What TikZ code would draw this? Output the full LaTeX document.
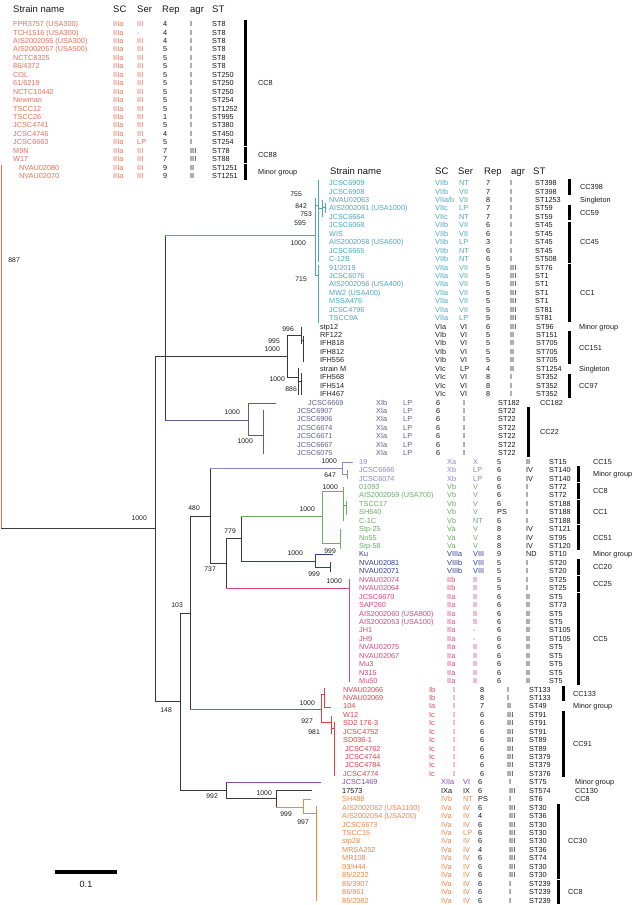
\documentclass[tikz,border=0pt]{standalone}
\usepackage{fontspec}
\setmainfont{Liberation Sans}
\definecolor{cIII}{HTML}{E8705A}
\definecolor{cVII}{HTML}{4BA7BF}
\definecolor{cVI}{HTML}{222222}
\definecolor{cXI}{HTML}{5F5D8F}
\definecolor{cX}{HTML}{8A89C4}
\definecolor{cV}{HTML}{6AAE68}
\definecolor{cVIII}{HTML}{2F3D8F}
\definecolor{cII}{HTML}{D9457C}
\definecolor{cI}{HTML}{E5404A}
\definecolor{cXII}{HTML}{7F4CB0}
\definecolor{cIV}{HTML}{EE8647}
\definecolor{tr}{HTML}{3A3A3A}
\definecolor{dk}{HTML}{1A1A1A}
\newcommand{\setcols}[6]{\def\cN{#1}\def\cSC{#2}\def\cSer{#3}\def\cRep{#4}\def\cAgr{#5}\def\cST{#6}}
\newcommand{\trow}[8]{%
  \pgfmathsetmacro{\ry}{\rbase+8.44*#1+2.6}%
  \node[lf,text=#2] (nm\blk#1) at (\cN,\ry) {#3};%
  \node[lf,text=#2] (sc\blk#1) at (\cSC,\ry) {#4};%
  \node[lf,text=#2] (se\blk#1) at (\cSer,\ry) {#5};%
  \node[lf,text=dk] (rp\blk#1) at (\cRep,\ry) {#6};%
  \node[lf,text=dk] (ag\blk#1) at (\cAgr,\ry) {#7};%
  \node[lf,text=dk] (st\blk#1) at (\cST,\ry) {#8};}
\newcommand{\ccb}[6]{%
  \pgfmathsetmacro{\ya}{\rbase+8.44*#3-3.6}%
  \pgfmathsetmacro{\yb}{\rbase+8.44*#4+3.6}%
  \pgfmathsetmacro{\yc}{\rbase+8.44*(#3+#4)/2+2.6}%
  \draw[ccbar] (#2,\ya) -- (#2,\yb);%
  \node[lf,text=dk] (#1) at (#5,\yc) {#6};}
\newcommand{\ccl}[4]{%
  \pgfmathsetmacro{\yc}{\rbase+8.44*#2+2.6}%
  \node[lf,text=dk] (#1) at (#3,\yc) {#4};}
\begin{document}
\begin{tikzpicture}[x=1pt,y=-1pt,
  lf/.style={anchor=base west, inner sep=0pt, font=\fontsize{7.3}{8}\selectfont},
  hd/.style={anchor=base west, inner sep=0pt, text=dk, font=\fontsize{9.5}{10}\selectfont},
  bs/.style={anchor=base east, inner sep=0pt, text=dk, font=\fontsize{6.8}{7}\selectfont},
  br/.style={line width=1pt, line cap=rect},
  ccbar/.style={line width=3pt, draw=black}]
\useasboundingbox[fill=white] (0,0) rectangle (637,905);

% ---------- headers
\node[hd] (h1n) at (13,12.4) {Strain name};
\node[hd] (h1c) at (113,12.4) {SC};
\node[hd] (h1s) at (137,12.4) {Ser};
\node[hd] (h1r) at (162,12.4) {Rep};
\node[hd] (h1a) at (190,12.4) {agr};
\node[hd] (h1t) at (212,12.4) {ST};
\node[hd] (h2n) at (330,174.4) {Strain name};
\node[hd] (h2c) at (435,174.4) {SC};
\node[hd] (h2s) at (458,174.4) {Ser};
\node[hd] (h2r) at (484,174.4) {Rep};
\node[hd] (h2a) at (511,174.4) {agr};
\node[hd] (h2t) at (533,174.4) {ST};

% ---------- top block
\def\rbase{24}\def\blk{t}
\setcols{13}{113}{137}{163}{190}{212}
\trow{0}{cIII}{FPR3757 (USA300)}{IIIa}{III}{4}{I}{ST8}
\trow{1}{cIII}{TCH1516 (USA300)}{IIIa}{-}{4}{I}{ST8}
\trow{2}{cIII}{AIS2002055 (USA300)}{IIIa}{III}{4}{I}{ST8}
\trow{3}{cIII}{AIS2002057 (USA500)}{IIIa}{III}{5}{I}{ST8}
\trow{4}{cIII}{NCTC8325}{IIIa}{III}{5}{I}{ST8}
\trow{5}{cIII}{86/4372}{IIIa}{III}{5}{I}{ST8}
\trow{6}{cIII}{COL}{IIIa}{III}{5}{I}{ST250}
\trow{7}{cIII}{61/6219}{IIIa}{III}{5}{I}{ST250}
\trow{8}{cIII}{NCTC10442}{IIIa}{III}{5}{I}{ST250}
\trow{9}{cIII}{Newman}{IIIa}{III}{5}{I}{ST254}
\trow{10}{cIII}{TSCC12}{IIIa}{III}{5}{I}{ST1252}
\trow{11}{cIII}{TSCC26}{IIIa}{III}{1}{I}{ST995}
\trow{12}{cIII}{JCSC4741}{IIIa}{III}{5}{I}{ST380}
\trow{13}{cIII}{JCSC4746}{IIIa}{III}{4}{I}{ST450}
\trow{14}{cIII}{JCSC6663}{IIIa}{LP}{5}{I}{ST254}
\trow{15}{cIII}{M9N}{IIIa}{III}{7}{III}{ST78}
\trow{16}{cIII}{W17}{IIIa}{III}{7}{III}{ST88}
\def\cN{19}
\trow{17}{cIII}{NVAU02080}{IIIa}{III}{9}{II}{ST1251}
\trow{18}{cIII}{NVAU02070}{IIIa}{III}{9}{II}{ST1251}
\ccb{gt1}{245}{0}{14}{258}{CC8}
\ccb{gt2}{245}{15}{16}{258}{CC88}
\ccb{gt3}{245}{17}{18}{258}{Minor group}

% ---------- lower blocks
\def\rbase{183}\def\blk{r}
\setcols{329}{435}{459}{486}{510}{535}
\trow{0}{cVII}{JCSC6909}{VIIb}{NT}{7}{I}{ST398}
\trow{1}{cVII}{JCSC6908}{VIIb}{VII}{7}{I}{ST398}
\trow{2}{cVII}{NVAU02063}{VIIa/b}{VII}{8}{I}{ST1253}
\trow{3}{cVII}{AIS2002061 (USA1000)}{VIIc}{LP}{7}{I}{ST59}
\trow{4}{cVII}{JCSC6664}{VIIc}{NT}{7}{I}{ST59}
\trow{5}{cVII}{JCSC6068}{VIIb}{VII}{6}{I}{ST45}
\trow{6}{cVII}{WIS}{VIIb}{VII}{6}{I}{ST45}
\trow{7}{cVII}{AIS2002058 (USA600)}{VIIb}{LP}{3}{I}{ST45}
\trow{8}{cVII}{JCSC6665}{VIIb}{NT}{6}{I}{ST45}
\trow{9}{cVII}{C-12B}{VIIb}{NT}{6}{I}{ST508}
\trow{10}{cVII}{91/2019}{VIIa}{VII}{5}{III}{ST76}
\trow{11}{cVII}{JCSC6076}{VIIa}{VII}{5}{III}{ST1}
\trow{12}{cVII}{AIS2002056 (USA400)}{VIIa}{VII}{5}{III}{ST1}
\trow{13}{cVII}{MW2 (USA400)}{VIIa}{VII}{5}{III}{ST1}
\trow{14}{cVII}{MSSA476}{VIIa}{VII}{5}{III}{ST1}
\trow{15}{cVII}{JCSC4796}{VIIa}{VII}{5}{III}{ST81}
\trow{16}{cVII}{TSCC9A}{VIIa}{LP}{5}{III}{ST81}
\ccb{ga1}{569}{0}{1}{580}{CC398}
\ccl{ga2}{2}{580}{Singleton}
\ccb{ga3}{569}{3}{4}{580}{CC59}
\ccb{ga4}{569}{5}{9}{580}{CC45}
\ccb{ga5}{569}{10}{16}{580}{CC1}

\setcols{320}{435}{460}{486}{510}{536}
\trow{17}{cVI}{stp12}{VIa}{VI}{6}{III}{ST96}
\trow{18}{cVI}{RF122}{VIb}{VI}{5}{II}{ST151}
\trow{19}{cVI}{IFH818}{VIb}{VI}{5}{II}{ST705}
\trow{20}{cVI}{IFH812}{VIb}{VI}{5}{II}{ST705}
\trow{21}{cVI}{IFH556}{VIb}{VI}{5}{II}{ST705}
\trow{22}{cVI}{strain M}{VIc}{LP}{4}{II}{ST1254}
\trow{23}{cVI}{IFH568}{VIc}{VI}{8}{I}{ST352}
\trow{24}{cVI}{IFH514}{VIc}{VI}{8}{I}{ST352}
\trow{25}{cVI}{IFH467}{VIc}{VI}{8}{I}{ST352}
\ccl{gb1}{17}{579}{Minor group}
\ccb{gb2}{569}{18}{21}{579}{CC151}
\ccl{gb3}{22}{579}{Singleton}
\ccb{gb4}{569}{23}{25}{579}{CC97}

\setcols{308}{376}{403}{436}{463}{498}
\trow{26}{cXI}{JCSC6669}{XIb}{LP}{6}{I}{ST182}
\def\cN{297}
\trow{27}{cXI}{JCSC6907}{XIa}{LP}{6}{I}{ST22}
\trow{28}{cXI}{JCSC6906}{XIa}{LP}{6}{I}{ST22}
\trow{29}{cXI}{JCSC6674}{XIa}{LP}{6}{I}{ST22}
\trow{30}{cXI}{JCSC6671}{XIa}{LP}{6}{I}{ST22}
\trow{31}{cXI}{JCSC6667}{XIa}{LP}{6}{I}{ST22}
\trow{32}{cXI}{JCSC6075}{XIa}{LP}{6}{I}{ST22}
\ccl{gc1}{26}{540}{CC182}
\ccb{gc2}{528}{27}{32}{540}{CC22}

\setcols{359}{447}{473}{497}{526}{549}
\trow{33}{cX}{19}{Xa}{X}{5}{II}{ST15}
\trow{34}{cX}{JCSC6666}{Xb}{LP}{6}{IV}{ST140}
\trow{35}{cX}{JCSC6074}{Xb}{LP}{6}{IV}{ST140}
\trow{36}{cV}{01093}{Vb}{V}{6}{I}{ST72}
\trow{37}{cV}{AIS2002059 (USA700)}{Vb}{V}{6}{I}{ST72}
\trow{38}{cV}{TSCC17}{Vb}{V}{6}{I}{ST188}
\trow{39}{cV}{SH640}{Vb}{V}{PS}{I}{ST188}
\trow{40}{cV}{C-1C}{Vb}{NT}{6}{I}{ST188}
\trow{41}{cV}{Stp-25}{Va}{V}{8}{IV}{ST121}
\trow{42}{cV}{No55}{Va}{V}{8}{IV}{ST95}
\trow{43}{cV}{Stp-58}{Va}{V}{8}{IV}{ST120}
\trow{44}{cVIII}{Ku}{VIIIa}{VIII}{9}{ND}{ST10}
\trow{45}{cVIII}{NVAU02081}{VIIIb}{VIII}{5}{I}{ST20}
\trow{46}{cVIII}{NVAU02071}{VIIIb}{VIII}{5}{I}{ST20}
\trow{47}{cII}{NVAU02074}{IIb}{II}{5}{I}{ST25}
\trow{48}{cII}{NVAU02064}{IIb}{II}{5}{I}{ST25}
\trow{49}{cII}{JCSC6670}{IIa}{II}{6}{II}{ST5}
\trow{50}{cII}{SAP260}{IIa}{II}{6}{II}{ST73}
\trow{51}{cII}{AIS2002060 (USA800)}{IIa}{II}{6}{II}{ST5}
\trow{52}{cII}{AIS2002053 (USA100)}{IIa}{II}{6}{II}{ST5}
\trow{53}{cII}{JH1}{IIa}{-}{6}{II}{ST105}
\trow{54}{cII}{JH9}{IIa}{-}{6}{II}{ST105}
\trow{55}{cII}{NVAU02075}{IIa}{II}{6}{II}{ST5}
\trow{56}{cII}{NVAU02067}{IIa}{II}{6}{II}{ST5}
\trow{57}{cII}{Mu3}{IIa}{II}{6}{II}{ST5}
\trow{58}{cII}{N315}{IIa}{II}{6}{II}{ST5}
\trow{59}{cII}{Mu50}{IIa}{II}{6}{II}{ST5}
\ccl{gd1}{33}{593}{CC15}
\ccb{gd2}{578}{34}{35}{593}{Minor group}
\ccb{gd3}{578}{36}{37}{593}{CC8}
\ccb{gd4}{578}{38}{40}{593}{CC1}
\ccb{gd5}{578}{41}{43}{593}{CC51}
\ccl{gd6}{44}{593}{Minor group}
\ccb{gd7}{578}{45}{46}{593}{CC20}
\ccb{gd8}{578}{47}{48}{593}{CC25}
\ccb{gd9}{578}{49}{59}{593}{CC5}

\setcols{343}{429}{453}{480}{507}{529}
\trow{60}{cI}{NVAU02066}{Ib}{I}{8}{I}{ST133}
\trow{61}{cI}{NVAU02069}{Ib}{I}{8}{I}{ST133}
\trow{62}{cI}{104}{Ia}{I}{7}{II}{ST49}
\trow{63}{cI}{W12}{Ic}{I}{6}{III}{ST91}
\trow{64}{cI}{SD2 176-3}{Ic}{I}{6}{III}{ST91}
\trow{65}{cI}{JCSC4752}{Ic}{I}{6}{III}{ST91}
\trow{66}{cI}{SD036-1}{Ic}{I}{6}{III}{ST89}
\def\cN{345}
\trow{67}{cI}{JCSC4762}{Ic}{I}{6}{III}{ST89}
\trow{68}{cI}{JCSC4744}{Ic}{I}{6}{III}{ST379}
\trow{69}{cI}{JCSC4784}{Ic}{I}{6}{III}{ST379}
\def\cN{343}
\trow{70}{cI}{JCSC4774}{Ic}{I}{6}{III}{ST376}
\ccb{ge1}{563}{60}{61}{573}{CC133}
\ccl{ge2}{62}{573}{Minor group}
\ccb{ge3}{563}{63}{70}{573}{CC91}

\setcols{342}{441}{463}{478}{509}{529}
\trow{71}{cXII}{JCSC1469}{XIIa}{VI}{6}{I}{ST75}
\trow{72}{dk}{17573}{IXa}{IX}{6}{III}{ST574}
\trow{73}{cIV}{SH488}{IVb}{NT}{PS}{I}{ST6}
\trow{74}{cIV}{AIS2002062 (USA1100)}{IVa}{IV}{6}{III}{ST30}
\trow{75}{cIV}{AIS2002054 (USA200)}{IVa}{IV}{4}{III}{ST36}
\trow{76}{cIV}{JCSC6673}{IVa}{IV}{6}{III}{ST30}
\trow{77}{cIV}{TSCC15}{IVa}{LP}{6}{III}{ST30}
\trow{78}{cIV}{stp28}{IVa}{IV}{6}{III}{ST30}
\trow{79}{cIV}{MRSA252}{IVa}{IV}{4}{III}{ST36}
\trow{80}{cIV}{MR108}{IVa}{IV}{6}{III}{ST74}
\trow{81}{cIV}{93/H44}{IVa}{IV}{6}{III}{ST30}
\trow{82}{cIV}{85/2232}{IVa}{IV}{6}{III}{ST30}
\trow{83}{cIV}{85/3907}{IVa}{IV}{6}{I}{ST239}
\trow{84}{cIV}{86/961}{IVa}{IV}{6}{I}{ST239}
\trow{85}{cIV}{85/2082}{IVa}{IV}{6}{I}{ST239}
\ccl{gf1}{71}{575}{Minor group}
\ccl{gf2}{72}{575}{CC130}
\ccl{gf3}{73}{575}{CC8}
\ccb{gf4}{558}{74}{82}{568}{CC30}
\ccb{gf5}{558}{83}{85}{568}{CC8}

% ---------- tree
\draw[br,cIII] (1.5,165) -- (1.5,528);
\draw[br,tr] (1.5,528) -- (155,528);
\draw[br,tr] (155,356) -- (155,701);
\draw[br,tr] (165,235) -- (165,420);
\draw[br,tr] (155,356) -- (287,356);
\draw[br,cVII] (165,235) -- (315,235);
\draw[br,cXI] (165,420) -- (248,420);
% cyan clade
\draw[br,cVII] (315,198) -- (315,275) (315,205) -- (318,205) (318,180) -- (318,261)
  (318,208) -- (322,208) (322,200) -- (322,216) (322,207) -- (325,207) (325,203) -- (325,212)
  (315,275) -- (318,275) (318,265) -- (318,322);
% VI clade
\draw[br,tr] (287,335) -- (287,377)
  (287,335) -- (301,335) (301,327) -- (301,343) (301,340) -- (303,340) (303,336) -- (303,361)
  (287,377) -- (298,377) (298,368) -- (298,394) (298,381) -- (301,381) (301,373) -- (301,394);
% XI clade
\draw[br,cXI] (248,403) -- (248,435) (248,403) -- (275,403) (248,435) -- (263,435) (263,410) -- (263,453);
% lower backbone
\draw[br,tr] (155,701) -- (180,701) (180,613) -- (180,790) (180,613) -- (190,613)
  (190,516) -- (190,709) (190,516) -- (210,516) (210,468) -- (210,563)
  (210,563) -- (226,563) (226,538) -- (226,588) (226,538) -- (241,538) (241,516) -- (241,561)
  (180,790) -- (226,790) (226,782) -- (226,798) (226,798) -- (276,798)
  (276,790) -- (276,807) (276,790) -- (311,790);
\draw[br,cX] (210,468) -- (342,468) (342,462) -- (342,474) (342,462) -- (352,462)
  (342,474) -- (347,474) (347,470) -- (347,478);
\draw[br,cV] (241,516) -- (322,516) (322,491) -- (322,543) (322,491) -- (343,491)
  (343,487) -- (343,520) (343,505) -- (346,505) (346,501) -- (346,514)
  (322,543) -- (340,543) (340,529) -- (340,548);
\draw[br,cVIII] (241,561) -- (315,561) (315,554) -- (315,567) (315,554) -- (332,554)
  (315,567) -- (330,567) (330,562) -- (330,571);
\draw[br,cII] (226,588) -- (349,588) (349,579) -- (349,681);
\draw[br,cI] (190,709) -- (321,709) (321,694) -- (321,722) (321,694) -- (324,694)
  (324,688) -- (324,707) (324,707) -- (330,707) (321,722) -- (331,722)
  (331,716) -- (331,733) (331,728) -- (334,728) (334,722) -- (334,775);
\draw[br,cXII] (226,782) -- (320,782);
\draw[br,cIV] (276,807) -- (303,807) (303,799) -- (303,813) (303,799) -- (310,799)
  (303,813) -- (316,813) (316,806) -- (316,900);

% ---------- bootstrap values
\node[bs] (b1) at (302,196.4) {755};
\node[bs] (b2) at (307,208.4) {842};
\node[bs] (b3) at (312,216.4) {753};
\node[bs] (b4) at (306,225.4) {595};
\node[bs] (b5) at (306,245.4) {1000};
\node[bs] (b6) at (307,281.4) {715};
\node[bs] (b7) at (294,331.4) {996};
\node[bs] (b8) at (280,343.4) {995};
\node[bs] (b9) at (280,351.4) {1000};
\node[bs] (b10) at (285,381.4) {1000};
\node[bs] (b11) at (297,391.4) {886};
\node[bs] (b12) at (240,414.4) {1000};
\node[bs] (b13) at (253,443.4) {1000};
\node[bs] (b14) at (20,262.4) {887};
\node[bs] (b15) at (147,520.4) {1000};
\node[bs] (b16) at (172,712.4) {148};
\node[bs] (b17) at (183,607.4) {103};
\node[bs] (b18) at (200,510.4) {480};
\node[bs] (b19) at (216,571.4) {737};
\node[bs] (b20) at (236,533.4) {779};
\node[bs] (b21) at (337,463.4) {1000};
\node[bs] (b22) at (336,477.4) {647};
\node[bs] (b23) at (338,489.4) {1000};
\node[bs] (b24) at (315,511.4) {1000};
\node[bs] (b25) at (336,553.4) {999};
\node[bs] (b26) at (303,555.4) {1000};
\node[bs] (b27) at (320,576.4) {999};
\node[bs] (b28) at (342,583.4) {1000};
\node[bs] (b29) at (315,705.4) {1000};
\node[bs] (b30) at (313,723.4) {927};
\node[bs] (b31) at (320,734.4) {981};
\node[bs] (b32) at (218,798.4) {992};
\node[bs] (b33) at (272,795.4) {1000};
\node[bs] (b34) at (292,816.4) {999};
\node[bs] (b35) at (309,824.4) {997};

% ---------- scale bar
\draw[line width=4pt] (55,872) -- (117,872);
\node[anchor=base, inner sep=0pt, text=dk, font=\fontsize{9}{10}\selectfont] (sb) at (86,887) {0.1};
\end{tikzpicture}
\end{document}
